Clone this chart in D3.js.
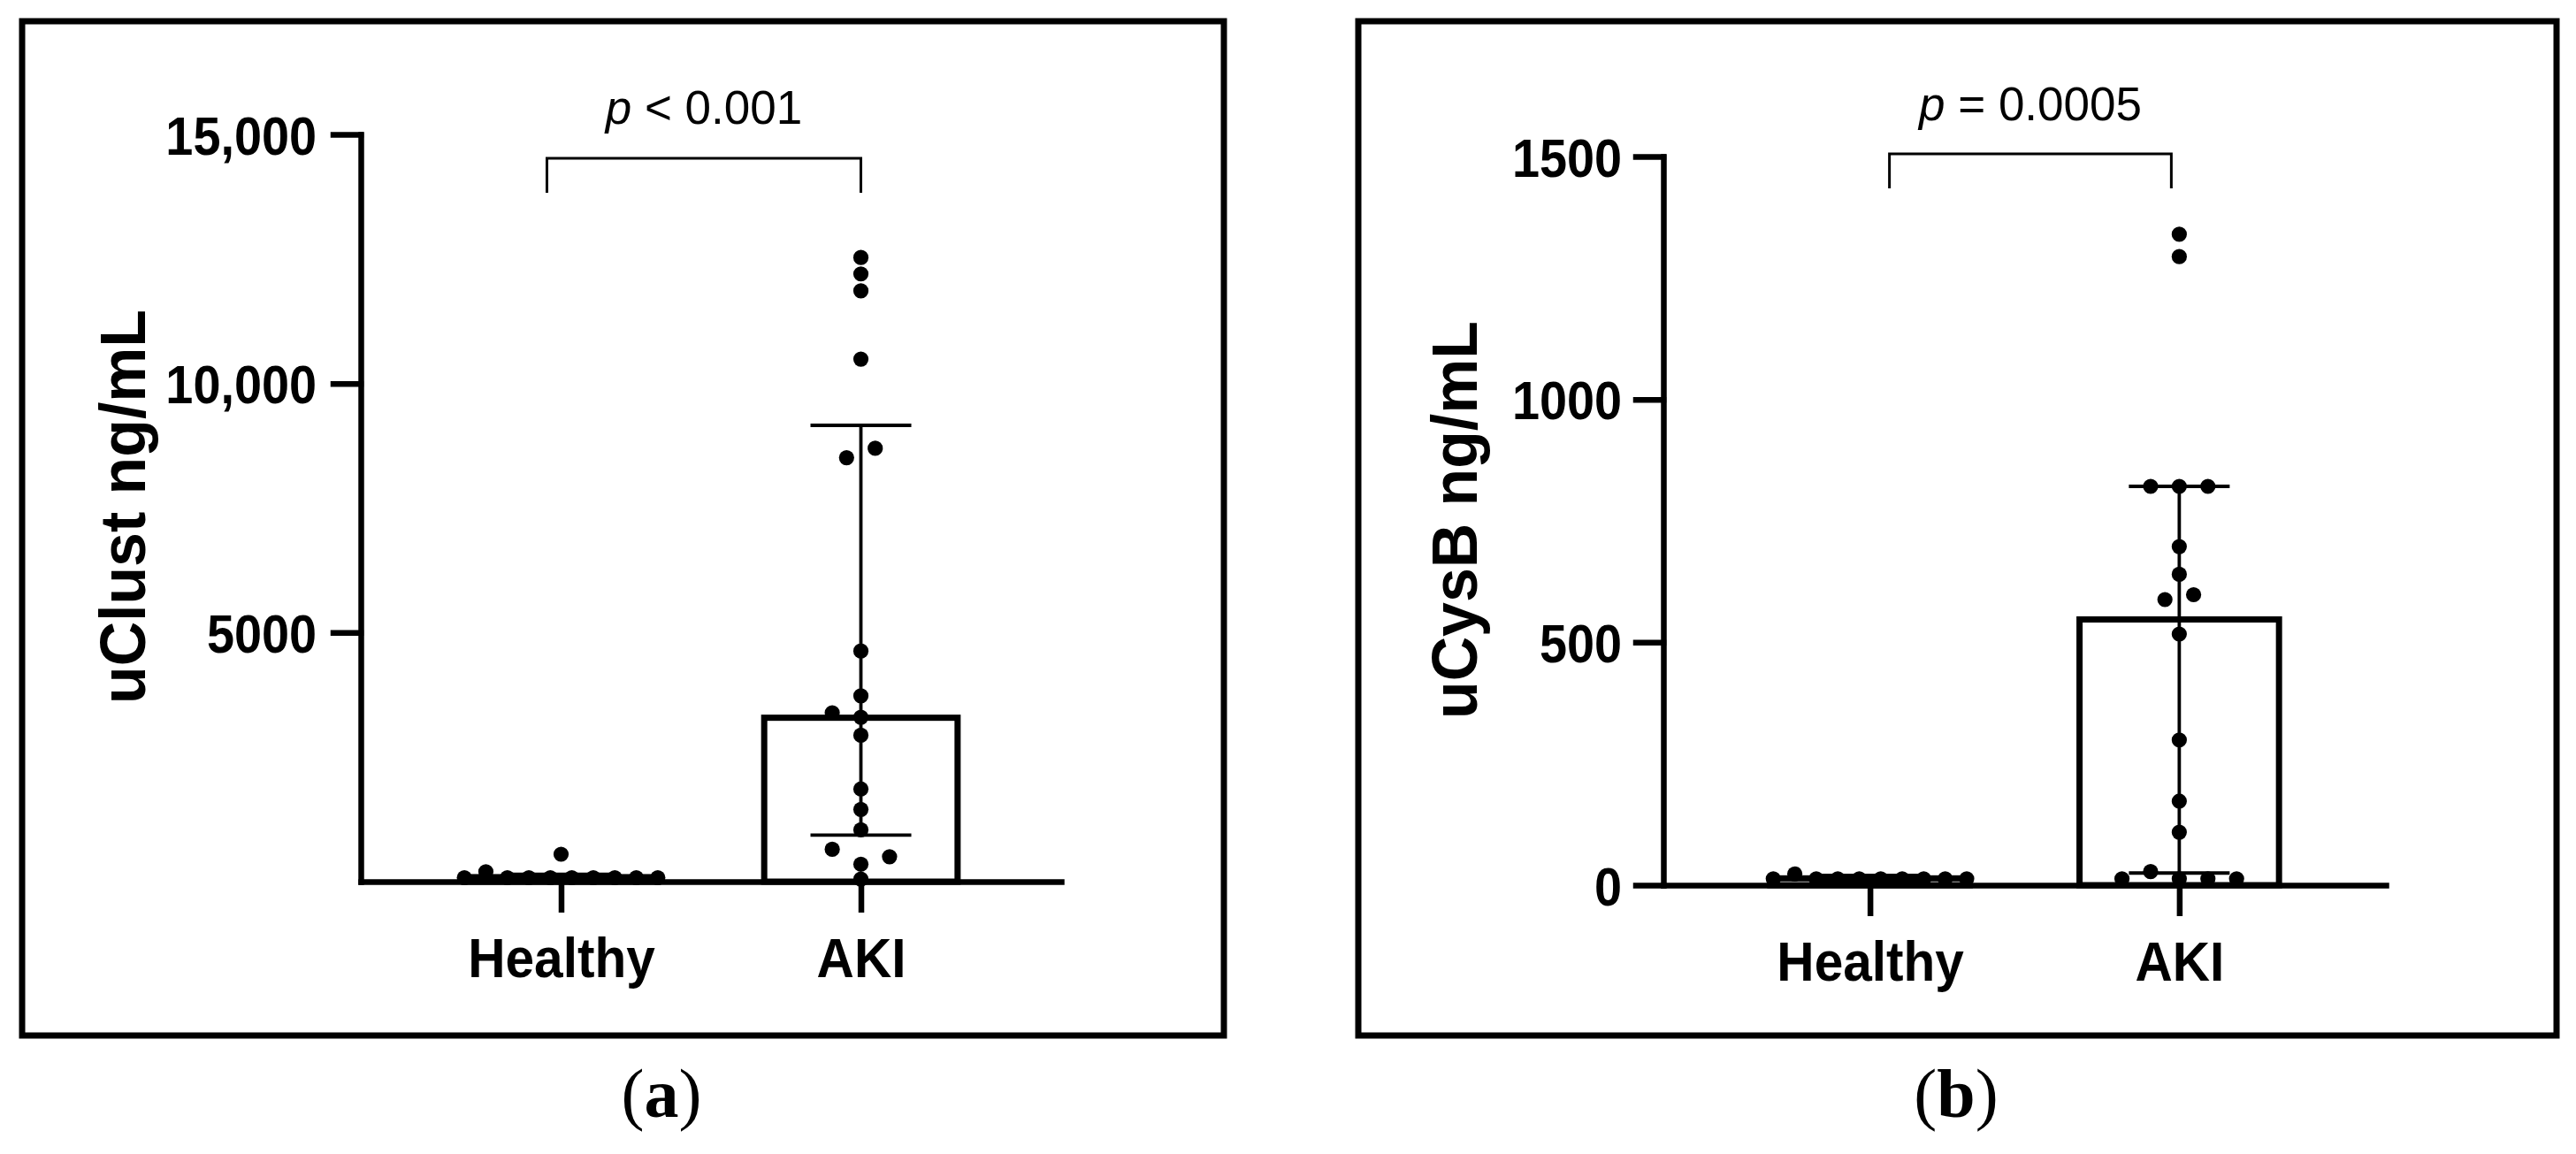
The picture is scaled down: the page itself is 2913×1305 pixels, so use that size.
<!DOCTYPE html>
<html>
<head>
<meta charset="utf-8">
<script src="https://cdn.jsdelivr.net/npm/d3@7"></script>
<style>
  html, body { margin: 0; padding: 0; background: #fff; }
  svg { display: block; }
</style>
</head>
<body>
<svg id="chart" width="2913" height="1305"></svg>
<script>
// ---------------- DATA ----------------
const groups = ["Healthy", "AKI"];

// Panel (a) uClust ng/mL
const clustTicks = [5000, 10000, 15000];
const clustTickLabels = ["5000", "10,000", "15,000"];
const clustBar = [90, 3290];
const clustErrLow = [40, 935];
const clustErrHigh = [150, 9160];
const clustHealthy = [80, 200, 80, 80, 80, 80, 80, 80, 80, 80, 550];
const clustHealthySlot = [-13.5, -10.5, -7.5, -4.5, -1.5, 1.5, 4.5, 7.5, 10.5, 13.5, 0];
const clustAki = [12530, 12200, 11860, 10490, 8700, 8510, 4630, 3730, 3390, 3300, 2940, 1860, 1450, 1040, 650, 500, 350, 50];
const clustAkiSlot = [0, 0, 0, 0, 2, -2, 0, 0, -4, 0, 0, 0, 0, 0, -4, 4, 0, 0];
const clustP = "< 0.001";

// Panel (b) uCysB ng/mL
const cysTicks = [0, 500, 1000, 1500];
const cysTickLabels = ["0", "500", "1000", "1500"];
const cysBar = [14, 547];
const cysErrLow = [8, 25];
const cysErrHigh = [20, 821];
const cysHealthy = [13, 23, 13, 13, 13, 13, 13, 13, 13, 13];
const cysHealthySlot = [-13.5, -10.5, -7.5, -4.5, -1.5, 1.5, 4.5, 7.5, 10.5, 13.5];
const cysAki = [1340, 1294, 821, 821, 821, 697, 640, 598, 588, 517, 299, 173, 109, 28, 13, 13, 13, 13];
const cysAkiSlot = [0, 0, -4, 0, 4, 0, 0, 2, -2, 0, 0, 0, 0, -4, -8, 0, 4, 8];
const cysP = "= 0.0005";

// ---------------- DRAW ----------------
const svg = d3.select("#chart");
const SANS = "'Liberation Sans', Arial, Helvetica, sans-serif";
const SERIF = "'Liberation Serif', 'Times New Roman', serif";
const UNIT = 8.1;      // horizontal spread unit for scatter points
const DOT_R = 8.6;

function panel(cfg) {
  const g = svg.append("g");

  // frame
  g.append("rect")
    .attr("x", cfg.frame[0]).attr("y", cfg.frame[1])
    .attr("width", cfg.frame[2] - cfg.frame[0])
    .attr("height", cfg.frame[3] - cfg.frame[1])
    .attr("fill", "none").attr("stroke", "#000").attr("stroke-width", 7);

  const x = d3.scalePoint().domain(groups)
    .range([cfg.axisX, cfg.axisEnd]).padding(0.668);
  const y = d3.scaleLinear().domain(cfg.domain).range([cfg.y0, cfg.yTop]);
  const bw = x.step() * 0.645;

  // bars
  g.selectAll("rect.bar").data(groups).join("rect")
    .attr("class", "bar")
    .attr("x", d => x(d) - bw / 2)
    .attr("y", (d, i) => y(cfg.bar[i]))
    .attr("width", bw)
    .attr("height", (d, i) => y(0) - y(cfg.bar[i]))
    .attr("fill", "#fff").attr("stroke", "#000").attr("stroke-width", 7);

  // error bars
  const eb = g.append("g").attr("stroke", "#000").attr("stroke-width", 3.8);
  groups.forEach((d, i) => {
    const cx = x(d);
    eb.append("line").attr("x1", cx).attr("x2", cx)
      .attr("y1", y(cfg.errLow[i])).attr("y2", y(cfg.errHigh[i]));
    [cfg.errLow[i], cfg.errHigh[i]].forEach(v => {
      eb.append("line").attr("x1", cx - 57).attr("x2", cx + 57)
        .attr("y1", y(v)).attr("y2", y(v));
    });
  });

  // y axis
  const yAxis = d3.axisLeft(y).tickValues(cfg.ticks)
    .tickFormat((d, i) => cfg.tickLabels[i])
    .tickSize(31).tickSizeOuter(0);
  const ya = g.append("g").attr("transform", `translate(${cfg.axisX},0)`).call(yAxis);
  ya.select(".domain").attr("stroke-width", 6.5).attr("stroke-linecap", "square");
  ya.selectAll(".tick line").attr("stroke-width", 6.5).attr("stroke-linecap", "square");
  ya.selectAll(".tick text")
    .attr("font-family", SANS).attr("font-weight", "bold").attr("font-size", 62)
    .attr("fill", "#000")
    .attr("text-anchor", "end")
    .attr("dy", "0.36em")
    .attr("x", -cfg.labelGap / 0.9)
    .attr("transform", "scale(0.9,1)");

  // x axis
  const xAxis = d3.axisBottom(x).tickSize(35).tickSizeOuter(0).tickPadding(28);
  const xa = g.append("g").attr("transform", `translate(0,${cfg.y0})`).call(xAxis);
  xa.select(".domain").attr("stroke-width", 6.5).attr("stroke-linecap", "square");
  xa.selectAll(".tick line").attr("stroke-width", 6.5);
  xa.selectAll(".tick text")
    .attr("font-family", SANS).attr("font-weight", "bold").attr("font-size", 63)
    .attr("fill", "#000")
    .attr("transform", "scale(0.93,1)");

  // points
  const pts = [];
  cfg.healthy.forEach((v, i) => pts.push({ g: groups[0], v, s: cfg.healthySlot[i] }));
  cfg.aki.forEach((v, i) => pts.push({ g: groups[1], v, s: cfg.akiSlot[i] }));
  g.selectAll("circle.pt").data(pts).join("circle")
    .attr("class", "pt")
    .attr("cx", d => x(d.g) + d.s * UNIT)
    .attr("cy", d => y(d.v))
    .attr("r", DOT_R)
    .attr("fill", "#000");

  // y title
  g.append("text")
    .attr("transform", `translate(${cfg.titlePos[0]},${cfg.titlePos[1]}) rotate(-90) scale(0.97,1)`)
    .attr("text-anchor", "middle").attr("dy", "0.36em")
    .attr("font-family", SANS).attr("font-weight", "bold").attr("font-size", 72)
    .attr("fill", "#000")
    .text(cfg.title);

  // significance bracket
  const bx1 = x(groups[0]) + cfg.brOff[0];
  const bx2 = x(groups[1]) + cfg.brOff[1];
  g.append("path")
    .attr("d", `M${bx1},${cfg.brY[1]}V${cfg.brY[0]}H${bx2}V${cfg.brY[1]}`)
    .attr("fill", "none").attr("stroke", "#000").attr("stroke-width", 3);
  const pt = g.append("text")
    .attr("x", (bx1 + bx2) / 2).attr("y", cfg.pY)
    .attr("text-anchor", "middle")
    .attr("font-family", SANS).attr("font-size", 53).attr("fill", "#000");
  pt.append("tspan").attr("font-style", "italic").text("p");
  pt.append("tspan").text(" " + cfg.p);

  // caption
  const cap = svg.append("text")
    .attr("x", cfg.capX).attr("y", 1263)
    .attr("text-anchor", "middle")
    .attr("font-family", SERIF).attr("font-size", 78).attr("fill", "#000");
  cap.append("tspan").text("(");
  cap.append("tspan").attr("font-weight", "bold").text(cfg.letter);
  cap.append("tspan").text(")");
}

panel({
  frame: [25, 24, 1384, 1171],
  axisX: 408, axisEnd: 1200, y0: 997, yTop: 152,
  domain: [0, 15000],
  ticks: clustTicks, tickLabels: clustTickLabels, labelGap: 50,
  bar: clustBar, errLow: clustErrLow, errHigh: clustErrHigh,
  healthy: clustHealthy, healthySlot: clustHealthySlot,
  aki: clustAki, akiSlot: clustAkiSlot,
  title: "uClust ng/mL", titlePos: [138, 573],
  brOff: [-16, 0], brY: [179, 218], pY: 140, p: clustP,
  capX: 748, letter: "a"
});

panel({
  frame: [1536, 24, 2891, 1171],
  axisX: 1881, axisEnd: 2698, y0: 1001, yTop: 177,
  domain: [0, 1500],
  ticks: cysTicks, tickLabels: cysTickLabels, labelGap: 47,
  bar: cysBar, errLow: cysErrLow, errHigh: cysErrHigh,
  healthy: cysHealthy, healthySlot: cysHealthySlot,
  aki: cysAki, akiSlot: cysAkiSlot,
  title: "uCysB ng/mL", titlePos: [1644, 588],
  brOff: [22, -9], brY: [174, 213], pY: 136, p: cysP,
  capX: 2212, letter: "b"
});
</script>
</body>
</html>
